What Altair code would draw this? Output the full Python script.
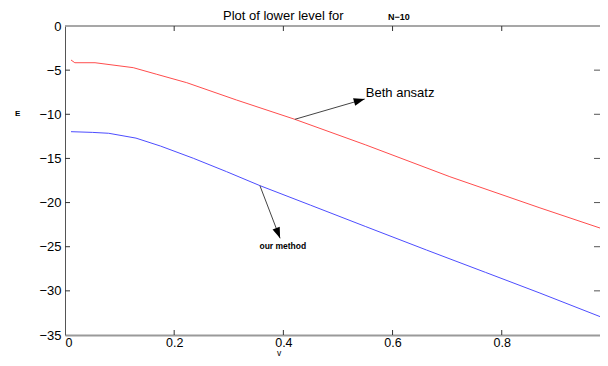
import altair as alt
import pandas as pd

# ---- data ----
beth_v = [0.011, 0.018, 0.055, 0.125, 0.168, 0.223, 0.314, 0.421, 0.55, 0.705, 0.87, 1.0]
beth_E = [-3.85, -4.16, -4.16, -4.72, -5.47, -6.42, -8.38, -10.57, -13.45, -17.07, -20.6, -23.3]
our_v = [0.011, 0.05, 0.08, 0.13, 0.175, 0.235, 0.296, 0.357, 0.45, 0.55, 0.662, 0.77, 0.87, 1.0]
our_E = [-11.97, -12.05, -12.15, -12.7, -13.6, -14.98, -16.5, -18.08, -20.3, -22.7, -25.37, -27.9, -30.25, -33.4]

x_ticks = [0.2, 0.4, 0.6, 0.8]
y_ticks = [0, -5, -10, -15, -20, -25, -30, -35]

arrow_names = ["Beth ansatz", "our method"]
arrow_tail_v = [0.421, 0.357]
arrow_tail_E = [-10.57, -18.08]
arrow_tip_v = [0.549, 0.394]
arrow_tip_E = [-8.27, -24.05]
arrow_angle = [74, 159]

# visible part of the x range (the right edge of the original is cut off)
X_MAX = 0.98
W, H = 535, 309
FONT = "Liberation Sans"

lines_df = pd.DataFrame({
    "v": beth_v + our_v,
    "E": beth_E + our_E,
    "series": ["Beth ansatz"] * len(beth_v) + ["our method"] * len(our_v),
})
arrows_df = pd.DataFrame({
    "name": arrow_names, "tv": arrow_tail_v, "tE": arrow_tail_E,
    "hv": arrow_tip_v, "hE": arrow_tip_E, "ang": arrow_angle,
})

xs = alt.Scale(domain=[0, X_MAX], nice=False, zero=False)
ys = alt.Scale(domain=[-35, 0], nice=False, zero=False)

lines = alt.Chart(lines_df).mark_line(strokeWidth=1, clip=True).encode(
    x=alt.X("v:Q", scale=xs,
            axis=alt.Axis(values=[0] + x_ticks, format="~g", tickSize=0, labelPadding=1,
                          labelFontSize=12.5, labelFont=FONT, labelColor="black",
                          domainColor="#9a9a9a", domainWidth=2, title=None, grid=False)),
    y=alt.Y("E:Q", scale=ys,
            axis=alt.Axis(values=y_ticks, tickSize=0, labelPadding=4,
                          labelFontSize=13, labelFont=FONT, labelColor="black",
                          domainColor="#555555", domainWidth=1, title=None, grid=False)),
    color=alt.Color("series:N", scale=alt.Scale(domain=["Beth ansatz", "our method"],
                                                 range=["#ff4d4d", "#4d4dff"]), legend=None),
    detail="series:N",
)

xt = pd.DataFrame({"t": x_ticks})
yt = pd.DataFrame({"t": y_ticks[1:-1]})
tick_color = "#333333"
xt_bot = alt.Chart(xt).mark_rule(color=tick_color, strokeWidth=1).encode(
    x=alt.X("t:Q", scale=xs), y=alt.value(H), y2=alt.value(H - 5))
xt_top = alt.Chart(xt).mark_rule(color=tick_color, strokeWidth=1).encode(
    x=alt.X("t:Q", scale=xs), y=alt.value(0), y2=alt.value(5))
yt_left = alt.Chart(yt).mark_rule(color=tick_color, strokeWidth=1).encode(
    y=alt.Y("t:Q", scale=ys), x=alt.value(0), x2=alt.value(5))
yt_right = alt.Chart(yt).mark_rule(color="#555555", strokeWidth=1).encode(
    y=alt.Y("t:Q", scale=ys), x=alt.value(W - 6), x2=alt.value(W))
top_border = alt.Chart(pd.DataFrame({"t": [0]})).mark_rule(color="#8a8a8a", strokeWidth=1.5).encode(
    y=alt.Y("t:Q", scale=ys), x=alt.value(0), x2=alt.value(W))

shafts = alt.Chart(arrows_df).mark_rule(color="#444444", strokeWidth=1).encode(
    x=alt.X("tv:Q", scale=xs), y=alt.Y("tE:Q", scale=ys),
    x2="hv:Q", y2="hE:Q")
heads = alt.Chart(arrows_df).mark_point(
    shape="M0,0 L-0.35,1 L0.35,1 Z", filled=True, color="black", opacity=1, size=484
).encode(
    x=alt.X("hv:Q", scale=xs), y=alt.Y("hE:Q", scale=ys), angle=alt.Angle("ang:Q", scale=None))

beth_lbl = alt.Chart(pd.DataFrame({"v": [0.551], "E": [-7.62], "t": ["Beth ansatz"]})).mark_text(
    align="left", baseline="middle", fontSize=13, font=FONT, color="black"
).encode(x=alt.X("v:Q", scale=xs), y=alt.Y("E:Q", scale=ys), text="t:N")
our_lbl = alt.Chart(pd.DataFrame({"v": [0.399], "E": [-24.9], "t": ["our method"]})).mark_text(
    align="center", baseline="middle", fontSize=8.5, font=FONT, fontWeight="bold", color="black"
).encode(x=alt.X("v:Q", scale=xs), y=alt.Y("E:Q", scale=ys), text="t:N")

def label(text, px, py, size, weight="normal", align="left"):
    return alt.Chart(pd.DataFrame({"t": [text]})).mark_text(
        align=align, baseline="alphabetic", fontSize=size, font=FONT, fontWeight=weight, color="black"
    ).encode(x=alt.value(px), y=alt.value(py), text="t:N")

title1 = label("Plot of lower level for", 158, -6, 13)
title2 = label("N\u221210", 323, -6, 9, "bold")
e_lbl = label("E", -50, 90, 8, "bold")
v_lbl = label("v", 214, 330, 8.5, "normal", "center")

chart = alt.layer(
    lines, top_border, xt_bot, xt_top, yt_left, yt_right, shafts, heads, beth_lbl, our_lbl,
    title1, title2, e_lbl, v_lbl
).properties(
    width=W, height=H,
    autosize=alt.AutoSizeParams(type="none"),
    padding={"left": 57, "top": 18, "right": 0, "bottom": 23},
    background="white",
).configure_view(strokeWidth=0)

chart.save("out.html", embed_options={"renderer": "svg", "actions": False})
